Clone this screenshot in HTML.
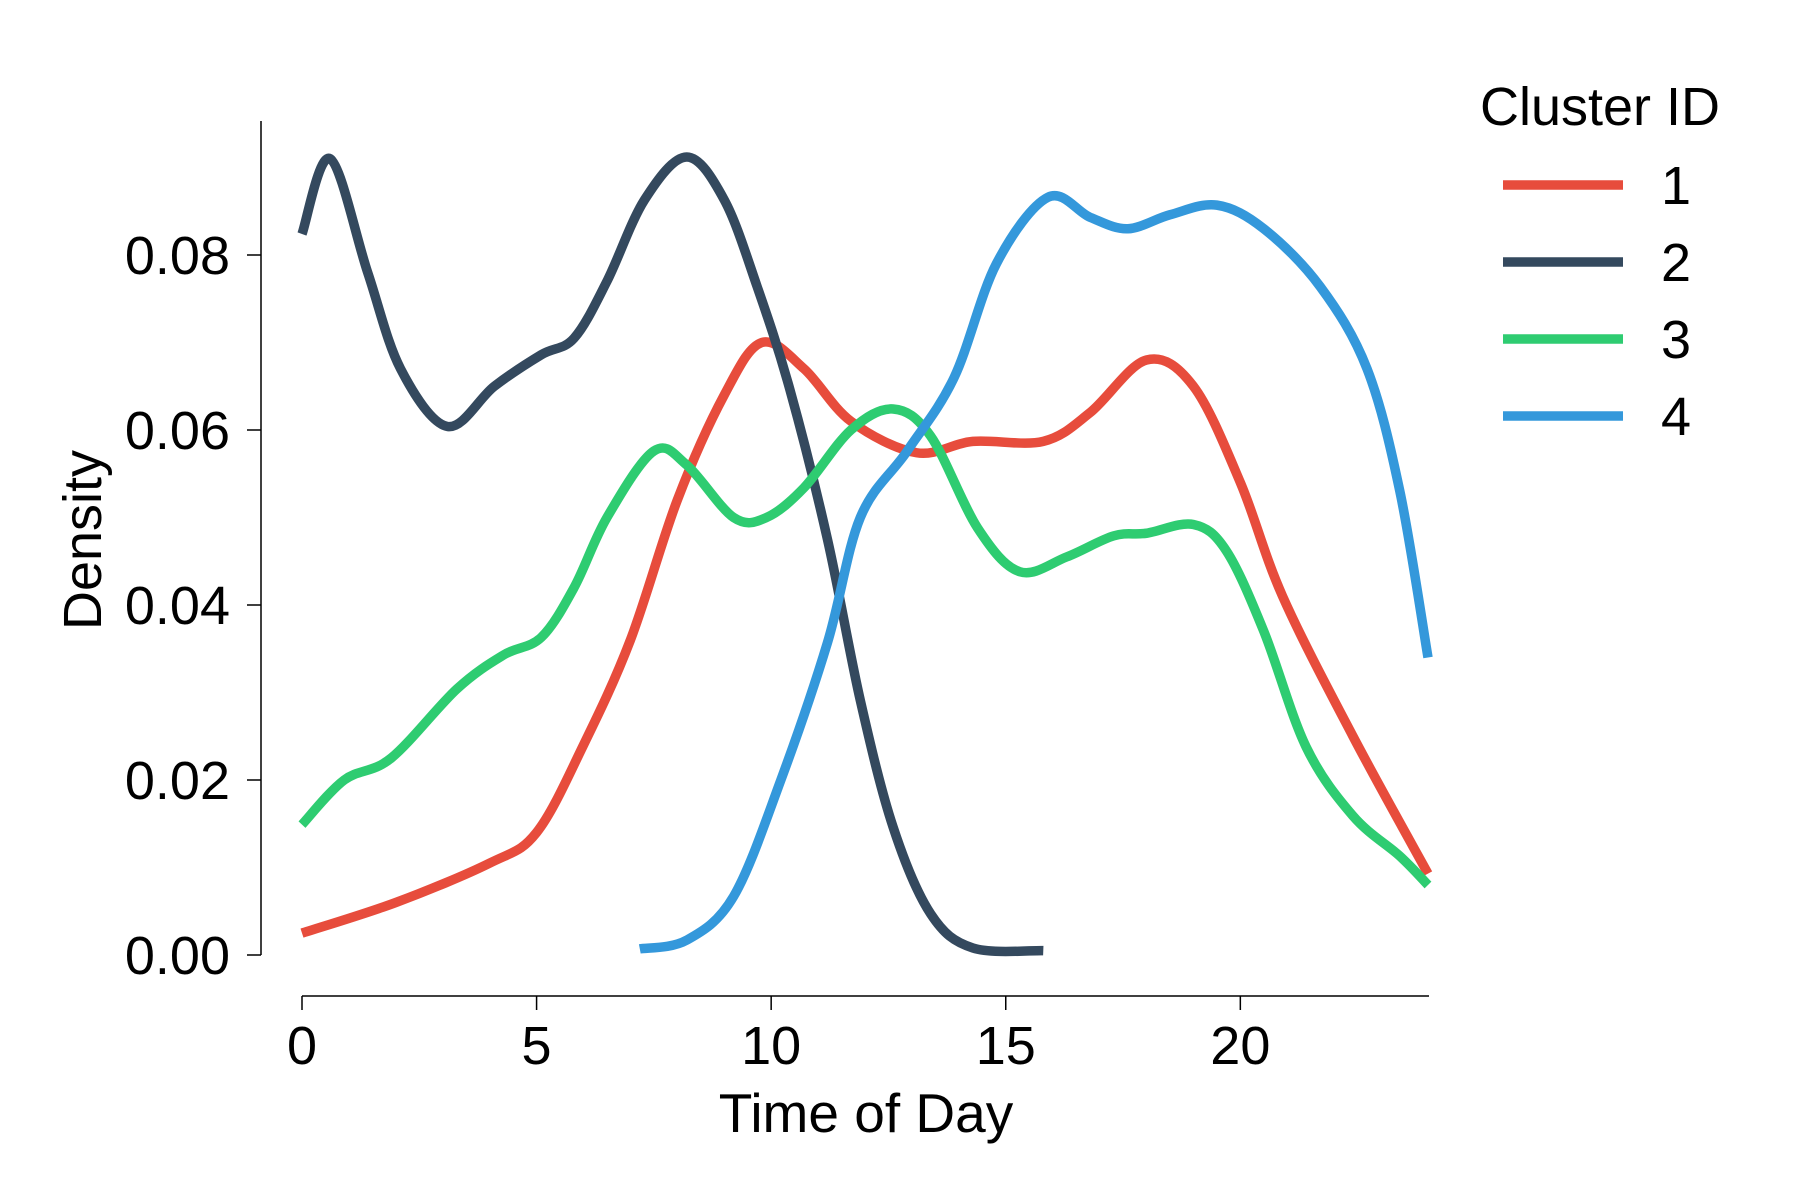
<!DOCTYPE html>
<html><head><meta charset="utf-8"><style>
html,body{margin:0;padding:0;background:#fff}
svg{display:block}
text{font-family:"Liberation Sans",Arial,sans-serif;fill:#000}
</style></head><body>
<svg id="chart" width="1800" height="1200" viewBox="0 0 1800 1200">
<g id="axes"></g>
<g id="series"></g>
<g id="legend"></g>
</svg>
<script>
const xTicks=[0,5,10,15,20];
const yTicks=[0,0.02,0.04,0.06,0.08];
const yTickLabels=["0.00","0.02","0.04","0.06","0.08"];
const seriesNames=["1","2","3","4"];
const seriesColors=["#e74c3c","#34495e","#2ecc71","#3498db"];
const s1x=[0,2,4,5,6,7,8,9,9.8,10.7,11.7,13.1,14.3,15.8,16.8,18,19,20,20.9,22.4,24];
const s1y=[0.0025,0.006,0.0105,0.0140,0.024,0.036,0.052,0.064,0.070,0.067,0.061,0.0574,0.0587,0.0587,0.062,0.068,0.065,0.054,0.041,0.025,0.0093];
const s2x=[0,0.6,1.4,2.1,3.1,4.1,5.1,5.8,6.5,7.3,8.2,9,9.7,10.4,11.2,11.9,12.6,13.4,14.3,15.8];
const s2y=[0.0824,0.091,0.078,0.067,0.0604,0.065,0.0686,0.0705,0.077,0.0863,0.0912,0.0863,0.0764,0.0646,0.0475,0.0291,0.0146,0.0047,0.0008,0.0005];
const s3x=[0,0.9,1.9,3.3,4.3,5.1,5.8,6.5,7.5,8.2,9.2,9.9,10.7,11.7,12.6,13.4,14.4,15.3,16.3,17.3,18,19,19.7,20.5,21.4,22.4,23.4,24];
const s3y=[0.0149,0.020,0.0225,0.0304,0.0343,0.0363,0.042,0.050,0.0576,0.056,0.050,0.050,0.0534,0.060,0.0624,0.0593,0.0488,0.0438,0.0455,0.0479,0.0482,0.0492,0.0462,0.037,0.0238,0.0159,0.0113,0.008];
const s4x=[7.2,8.2,9.2,10.2,11.2,11.9,12.9,13.9,14.8,15.9,16.8,17.6,18.5,19.5,20.5,21.7,22.7,23.4,24];
const s4y=[0.0007,0.0017,0.0067,0.0199,0.0357,0.050,0.0576,0.066,0.079,0.0866,0.0843,0.083,0.0846,0.0857,0.083,0.0764,0.067,0.053,0.034];
const allX=[s1x,s2x,s3x,s4x], allY=[s1y,s2y,s3y,s4y];

const NS="http://www.w3.org/2000/svg";
const X0=302,X1=1428,XMAX=24,YB=955,YT=255,YTV=0.08;
function sx(v){return X0+(X1-X0)*v/XMAX;}
function sy(v){return YB-(YB-YT)*v/YTV;}
function mk(tag,attrs,parent){const e=document.createElementNS(NS,tag);for(const k in attrs)e.setAttribute(k,attrs[k]);parent.appendChild(e);return e;}
const axes=document.getElementById('axes');
let yl=mk('line',{x1:261,y1:121,x2:261,y2:YB,stroke:'#000','stroke-width':1.5},axes);


let xl=mk('line',{x1:X0,y1:996,x2:X1+1,y2:996,stroke:'#000','stroke-width':1.5},axes);


yTicks.forEach((v,i)=>{
  const t=mk('line',{x1:247,x2:261,y1:sy(v),y2:sy(v),stroke:'#000','stroke-width':1.5},axes);
  
  
  const tx=mk('text',{x:230,y:sy(v)+19,'text-anchor':'end','font-size':54},axes);
  tx.textContent=yTickLabels[i];
  
  
});
xTicks.forEach(v=>{
  const t=mk('line',{x1:sx(v),x2:sx(v),y1:996,y2:1010,stroke:'#000','stroke-width':1.5},axes);
  
  
  const tx=mk('text',{x:sx(v),y:1064,'text-anchor':'middle','font-size':54},axes);
  tx.textContent=String(v);
  
  
});
const xt=mk('text',{x:866,y:1132,'text-anchor':'middle','font-size':55},axes);
xt.textContent='Time of Day';


const yt=mk('text',{x:0,y:0,'text-anchor':'middle','font-size':54,transform:'translate(101,540) rotate(-90)'},axes);
yt.textContent='Density';



function pathFor(xs,ys){
  const p=xs.map((x,i)=>[sx(x),sy(ys[i])]);
  let d='M'+p[0][0]+','+p[0][1];
  for(let i=0;i<p.length-1;i++){
    const p0=p[Math.max(0,i-1)],p1=p[i],p2=p[i+1],p3=p[Math.min(p.length-1,i+2)];
    const c1=[p1[0]+(p2[0]-p0[0])/6,p1[1]+(p2[1]-p0[1])/6];
    const c2=[p2[0]-(p3[0]-p1[0])/6,p2[1]-(p3[1]-p1[1])/6];
    d+=' C'+c1[0]+','+c1[1]+' '+c2[0]+','+c2[1]+' '+p2[0]+','+p2[1];
  }
  return d;
}
const sg=document.getElementById('series');
allX.forEach((xs,i)=>{
  const pth=mk('path',{d:pathFor(xs,allY[i]),fill:'none',stroke:seriesColors[i],'stroke-width':9.5,'stroke-linejoin':'round','stroke-linecap':'butt'},sg);
  
  
});
const lg=document.getElementById('legend');
const lt=mk('text',{x:1480,y:125,'font-size':54},lg);
lt.textContent='Cluster ID';


seriesNames.forEach((n,i)=>{
  const y=185+i*77;
  const ln=mk('line',{x1:1503,x2:1623,y1:y,y2:y,stroke:seriesColors[i],'stroke-width':9.5},lg);
  
  
  const tx=mk('text',{x:1676,y:y+19,'text-anchor':'middle','font-size':54},lg);
  tx.textContent=n;
  
  
});
</script>
</body></html>
